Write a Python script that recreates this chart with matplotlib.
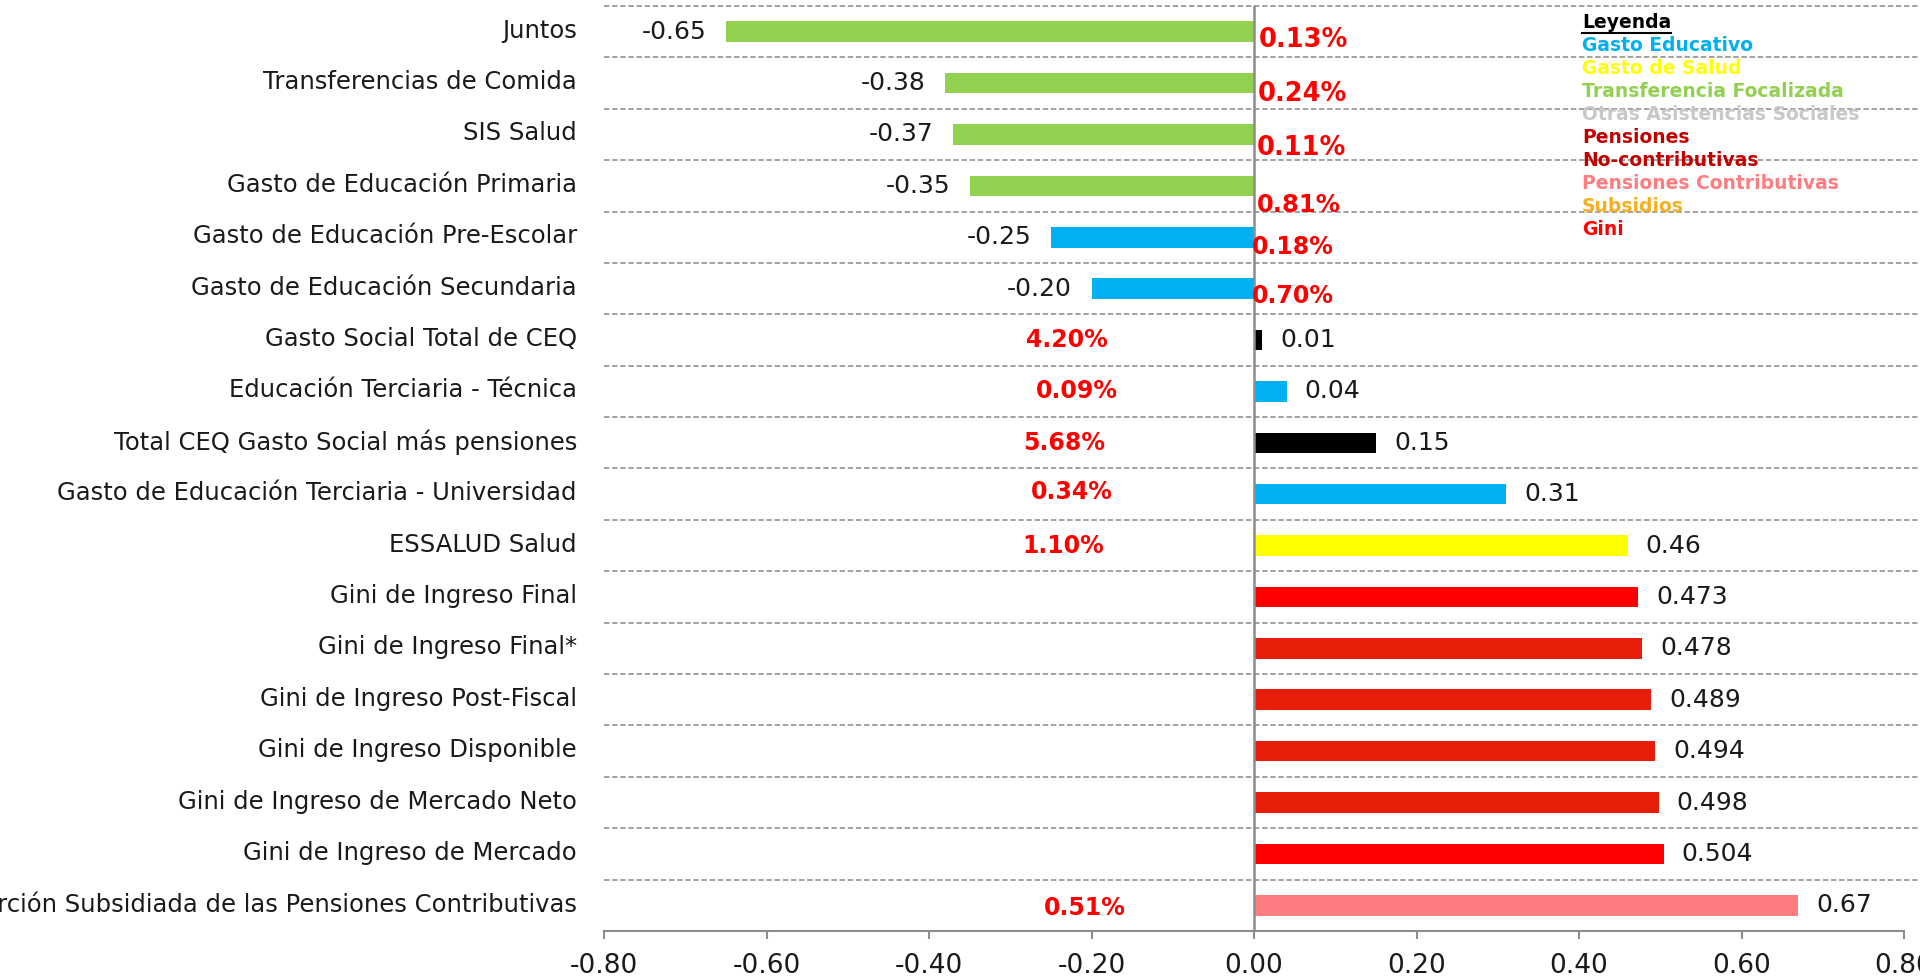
import matplotlib
matplotlib.use("Agg")
import matplotlib.pyplot as plt
import matplotlib.transforms as mtransforms
from matplotlib.lines import Line2D

# ---------------- data ----------------
categories = [
    "Juntos",
    "Transferencias de Comida",
    "SIS Salud",
    "Gasto de Educación Primaria",
    "Gasto de Educación Pre-Escolar",
    "Gasto de Educación Secundaria",
    "Gasto Social Total de CEQ",
    "Educación Terciaria - Técnica",
    "Total CEQ Gasto Social más pensiones",
    "Gasto de Educación Terciaria - Universidad",
    "ESSALUD Salud",
    "Gini de Ingreso Final",
    "Gini de Ingreso Final*",
    "Gini de Ingreso Post-Fiscal",
    "Gini de Ingreso Disponible",
    "Gini de Ingreso de Mercado Neto",
    "Gini de Ingreso de Mercado",
    "Proporción Subsidiada de las Pensiones Contributivas",
]
values = [-0.65, -0.38, -0.37, -0.35, -0.25, -0.20, 0.01, 0.04, 0.15, 0.31,
          0.46, 0.473, 0.478, 0.489, 0.494, 0.498, 0.504, 0.67]
value_labels = ["-0.65", "-0.38", "-0.37", "-0.35", "-0.25", "-0.20", "0.01",
                "0.04", "0.15", "0.31", "0.46", "0.473", "0.478", "0.489",
                "0.494", "0.498", "0.504", "0.67"]
groups = ["focal", "focal", "focal", "focal", "edu", "edu", "total", "edu",
          "total", "edu", "salud", "gini", "gini2", "gini2", "gini2", "gini2",
          "gini", "pcontrib"]

# percentage annotations (row index, text)
pct_rows = [0, 1, 2, 3, 4, 5, 6, 7, 8, 9, 10, 17]
pct_texts = ["0.13%", "0.24%", "0.11%", "0.81%", "0.18%", "0.70%", "4.20%",
             "0.09%", "5.68%", "0.34%", "1.10%", "0.51%"]

xticks = [-0.80, -0.60, -0.40, -0.20, 0.00, 0.20, 0.40, 0.60, 0.80]
xtick_labels = ["-0.80", "-0.60", "-0.40", "-0.20", "0.00", "0.20", "0.40",
                "0.60", "0.80"]

legend_title = "Leyenda"
legend_items = ["Gasto Educativo", "Gasto de Salud", "Transferencia Focalizada",
                "Otras Asistencias Sociales", "Pensiones", "No-contributivas",
                "Pensiones Contributivas", "Subsidios", "Gini"]

# ---------------- styles ----------------
group_colors = {
    "focal": "#92D050",
    "edu": "#00B0F0",
    "total": "#000000",
    "salud": "#FFFF00",
    "gini": "#FF0000",
    "gini2": "#E81E0A",
    "pcontrib": "#FF7C80",
}
legend_colors = ["#00B0F0", "#FFFF00", "#92D050", "#C8C8C8", "#C00000",
                 "#C00000", "#FF7C80", "#F5B022", "#FF0000"]

# per-annotation placement (x in data units, alignment, y offset in rows, size)
pct_x = [0.006, 0.0045, 0.003, 0.003, -0.003, -0.003,
         -0.230, -0.218, -0.234, -0.224, -0.235, -0.208]
pct_ha = ["left"] * 6 + ["center"] * 6
pct_dy = [0.17, 0.22, 0.27, 0.38, 0.19, 0.14, 0.0, 0.0, 0.0, -0.05, 0.0, 0.05]
pct_size = [18.5, 18.5, 18.5, 17.5, 17, 17, 17, 17, 17, 17, 17, 17]

W, H, DPI = 1920, 980, 100
fig = plt.figure(figsize=(W / DPI, H / DPI), dpi=DPI)
fig.patch.set_facecolor("white")
ax = fig.add_axes([604 / W, 1 - 931 / H, 1300 / W, (931 - 6) / H])

n = len(categories)
ypos = list(range(n))
colors = [group_colors[g] for g in groups]
ax.barh(ypos, values, height=0.40, color=colors, zorder=3)

ax.set_xlim(-0.8, 0.8)
ax.set_ylim(n - 0.5, -0.5)

# y tick labels
ax.set_yticks(ypos)
ax.set_yticklabels(categories, fontsize=17.5, color="#1a1a1a")
ax.tick_params(axis="y", length=0, pad=19.5)
shift_up = mtransforms.ScaledTranslation(0, 3.5 / DPI, fig.dpi_scale_trans)
for lab in ax.get_yticklabels():
    lab.set_transform(lab.get_transform() + shift_up)

# x ticks
ax.set_xticks(xticks)
ax.set_xticklabels(xtick_labels, fontsize=19, color="#1a1a1a")
ax.tick_params(axis="x", direction="out", length=6, width=1.5,
               color="#8c8c8c", pad=10)

for s in ["top", "right", "left"]:
    ax.spines[s].set_visible(False)
ax.spines["bottom"].set_color("#8c8c8c")
ax.spines["bottom"].set_linewidth(1.5)

# zero line
ax.axvline(0, color="#8c8c8c", lw=1.8, zorder=4)

# dashed separators between rows (and at top)
xmax_ext = (W - 604) / 1300
for k in range(n):
    ax.axhline(k - 0.5, xmin=0, xmax=xmax_ext, color="#9a9a9a", lw=1.3,
               ls=(0, (3, 1.5)), zorder=1, clip_on=False)

# value labels
for y, v, lab in zip(ypos, values, value_labels):
    if v < 0:
        ax.annotate(lab, (v, y), xytext=(-14, 0), textcoords="offset points",
                    ha="right", va="center", fontsize=18, color="#1a1a1a")
    else:
        ax.annotate(lab, (v, y), xytext=(13, 0), textcoords="offset points",
                    ha="left", va="center", fontsize=18, color="#1a1a1a")

# percentage annotations
for r, t, x, ha, dy, fs in zip(pct_rows, pct_texts, pct_x, pct_ha, pct_dy, pct_size):
    ax.text(x, r + dy, t, ha=ha, va="center", fontsize=fs, fontweight="bold",
            color="#FF0000", zorder=5)

# legend block
lx = 1582 / W
ly0 = 23
step = 22.9
title = fig.text(lx, 1 - ly0 / H, legend_title, ha="left", va="center",
                 fontsize=13.5, fontweight="bold", color="#000000")
for i, (t, c) in enumerate(zip(legend_items, legend_colors)):
    fig.text(lx, 1 - (ly0 + step * (i + 1)) / H, t, ha="left", va="center",
             fontsize=13.5, fontweight="bold", color=c)

fig.canvas.draw()
bb = title.get_window_extent()
uy = bb.y0 - 1
fig.add_artist(Line2D([bb.x0 / W, bb.x1 / W], [uy / H, uy / H],
                      transform=fig.transFigure, color="#000000", lw=1.5))

fig.savefig("out.png", dpi=DPI, facecolor="white")
